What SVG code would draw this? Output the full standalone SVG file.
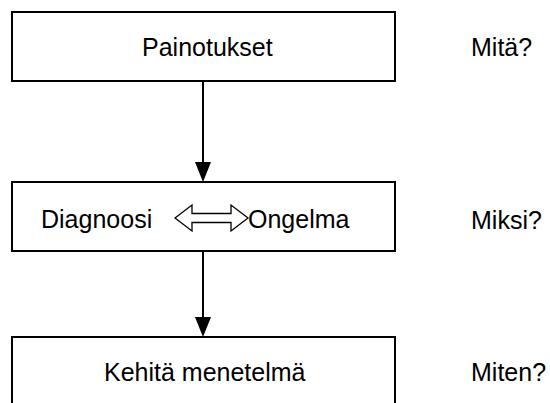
<svg xmlns="http://www.w3.org/2000/svg" width="550" height="403" viewBox="0 0 550 403">
  <style>
    .box { fill: #ffffff; stroke: #000000; stroke-width: 2; }
    .lbl { font-family: "Liberation Sans", Arial, sans-serif; font-size: 25px; fill: #000000; }
    .edge { stroke: #000000; stroke-width: 2; fill: none; }
    .head { fill: #000000; stroke: none; }
  </style>
  <rect width="550" height="403" fill="#ffffff"/>

  <g id="connectors">
    <line class="edge" x1="203" y1="81" x2="203" y2="163"/>
    <polygon class="head" points="195,162 211,162 203,182"/>
    <line class="edge" x1="203" y1="251" x2="203" y2="318"/>
    <polygon class="head" points="195,317 211,317 203,337"/>
  </g>

  <g id="painotukset">
    <rect class="box" x="12" y="12" width="383" height="69"/>
    <text class="lbl" x="142" y="56">Painotukset</text>
  </g>

  <g id="diagnoosi-ongelma">
    <rect class="box" x="12" y="182" width="383" height="69"/>
    <text class="lbl" x="41" y="228">Diagnoosi</text>
    <!-- hollow two-way arrow between the labels -->
    <polygon fill="#ffffff" stroke="#000000" stroke-width="1.3"
             points="175,218 192,205 192,213.5 231,213.5 231,205 248,218 231,231 231,222.5 192,222.5 192,231"/>
    <text class="lbl" x="248" y="228">Ongelma</text>
  </g>

  <g id="kehita-menetelma">
    <rect class="box" x="12" y="337" width="383" height="80"/>
    <text class="lbl" x="104" y="381">Kehitä menetelmä</text>
  </g>

  <g id="questions">
    <text class="lbl" x="471" y="56">Mitä?</text>
    <text class="lbl" x="471" y="229">Miksi?</text>
    <text class="lbl" x="471" y="381">Miten?</text>
  </g>
</svg>
